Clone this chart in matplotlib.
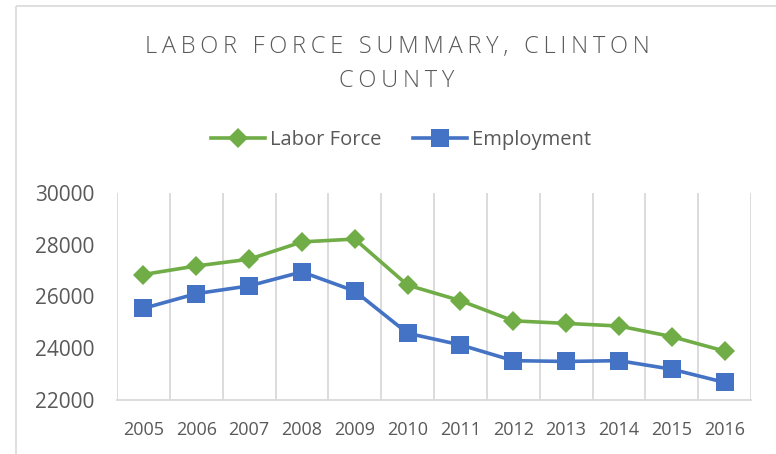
import matplotlib
matplotlib.use("Agg")
import matplotlib.pyplot as plt
from matplotlib.patches import Rectangle
import numpy as np

years = ["2005", "2006", "2007", "2008", "2009", "2010",
         "2011", "2012", "2013", "2014", "2015", "2016"]
labor_force = [26850, 27180, 27440, 28110, 28220, 26440,
               25840, 25060, 24960, 24860, 24450, 23890]
employment = [25540, 26110, 26410, 26950, 26210, 24580,
              24130, 23520, 23490, 23520, 23190, 22680]
y_ticks = [22000, 24000, 26000, 28000, 30000]
title_lines = ["LABOR FORCE SUMMARY, CLINTON", "COUNTY"]

GREEN = "#70AD47"
BLUE = "#4472C4"
TEXT = "#595959"
GRID = "#D9D9D9"

plt.rcParams["font.family"] = ["Open Sans", "DejaVu Sans"]

W, H = 776, 454
fig = plt.figure(figsize=(W / 100, H / 100), dpi=100)
fig.patch.set_facecolor("white")

# outer chart border
fig.patches.append(Rectangle((16 / W, 1 - 6 / H), 1.0, -1.2, transform=fig.transFigure,
                             fill=False, edgecolor=GRID, linewidth=1.2, zorder=0))

left, right, top, bottom = 117, 751, 193, 400
ax = fig.add_axes([left / W, 1 - bottom / H, (right - left) / W, (bottom - top) / H])

x = np.arange(len(years))
ax.plot(x, labor_force, color=GREEN, linewidth=2.6, marker="D", markersize=10.5,
        markeredgewidth=0, label="Labor Force", zorder=3)
ax.plot(x, employment, color=BLUE, linewidth=2.6, marker="s", markersize=12.5,
        markeredgewidth=0, label="Employment", zorder=3)

ax.set_xlim(-0.5, len(years) - 0.5)
ax.set_ylim(y_ticks[0], y_ticks[-1])
ax.set_yticks(y_ticks)
ax.set_yticklabels([str(v) for v in y_ticks])
ax.set_xticks(x)
ax.set_xticklabels(years)
ax.set_xticks(np.arange(-0.5, len(years) + 0.5, 1), minor=True)
ax.grid(True, which="minor", axis="x", color=GRID, linewidth=1.3)
ax.grid(False, which="major")
ax.tick_params(axis="both", which="both", length=0)
ax.tick_params(axis="y", labelsize=15, labelcolor=TEXT, pad=16)
ax.tick_params(axis="x", labelsize=13, labelcolor=TEXT, pad=15)

for s in ["top", "right", "left"]:
    ax.spines[s].set_visible(False)
ax.spines["bottom"].set_color(GRID)
ax.spines["bottom"].set_linewidth(1.3)

# title with letter spacing (thin spaces between letters)
spaced = ["\u2009".join(line) for line in title_lines]
fig.text(397 / W, 1 - 64 / H, "\n".join(spaced),
         ha="center", va="center", fontsize=17, color=TEXT, linespacing=1.55,
         fontweight="light")

fig.legend(loc="center", bbox_to_anchor=(401 / W, 1 - 140 / H), ncol=2, frameon=False,
           fontsize=14.5, labelcolor=TEXT, handlelength=2.7, handletextpad=0.25,
           columnspacing=1.55)

fig.savefig("out.png", dpi=100, facecolor="white")
